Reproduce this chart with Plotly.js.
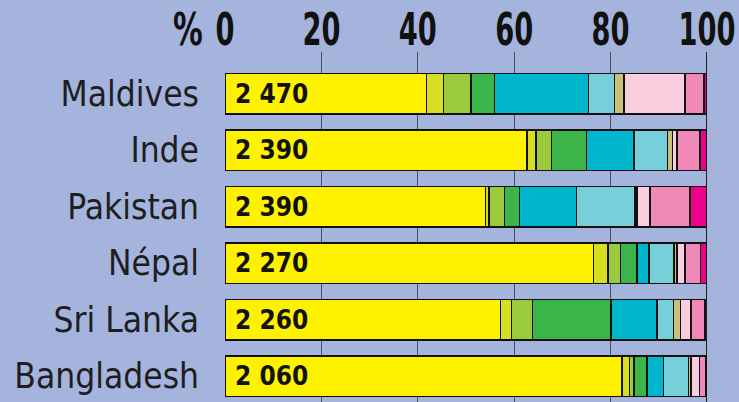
<!DOCTYPE html>
<html>
<head>
<meta charset="utf-8">
<script src="https://cdn.plot.ly/plotly-3.0.1.min.js"></script>
<style>
html,body{margin:0;padding:0;background:#A4B4DC;}
#chart{width:739px;height:402px;}
</style>
</head>
<body>
<div id="chart"></div>
<script>
// Countries (top to bottom)
const countries = ["Maldives", "Inde", "Pakistan", "Népal", "Sri Lanka", "Bangladesh"];
// Value labels shown inside the bars
const valueLabels = ["2 470", "2 390", "2 390", "2 270", "2 260", "2 060"];
// Share (%) of each segment, per country, in the order of countries
const seg1 = [41.8, 62.7, 54.0, 76.5, 57.2, 82.4];
const seg2 = [3.5, 1.8, 0.8, 3.0, 2.2, 1.5];
const seg3 = [5.7, 3.2, 3.2, 2.6, 4.4, 1.0];
const seg4 = [4.9, 7.3, 3.1, 3.4, 16.3, 2.6];
const seg5 = [19.5, 9.9, 11.8, 2.5, 9.5, 3.5];
const seg6 = [5.4, 6.9, 12.2, 5.2, 3.5, 5.2];
const seg7 = [2.0, 1.0, 0.4, 0.6, 1.4, 0.5];
const seg8 = [12.6, 1.0, 2.7, 1.6, 2.2, 1.7];
const seg9 = [4.0, 4.7, 8.3, 3.3, 2.9, 1.3];
const seg10 = [0.6, 1.5, 3.5, 1.3, 0.0, 0.3];
const tickVals = [0, 20, 40, 60, 80, 100];
const tickLabels = ["0", "20", "40", "60", "80", "100"];

const segments = [seg1, seg2, seg3, seg4, seg5, seg6, seg7, seg8, seg9, seg10];
const colors = ["#FFF200", "#D7DF23", "#9BCA3C", "#3BB54A", "#00B6CC",
                "#76CFD9", "#C9C07C", "#F9CEDF", "#F089B8", "#EC008C"];

const traces = segments.map((s, i) => ({
  type: "bar",
  orientation: "h",
  x: s,
  y: countries,
  marker: {color: colors[i], line: {color: "#111", width: 1.5}},
  hoverinfo: "x+y",
  showlegend: false
}));

const boldCond = "DejaVu Sans Condensed, DejaVu Sans, sans-serif";

const annotations = countries.map((c, i) => ({
  x: 0, y: c, xref: "x", yref: "y",
  text: valueLabels[i],
  xanchor: "left", yanchor: "middle",
  xshift: 8, yshift: 0,
  showarrow: false,
  font: {family: boldCond, size: 26, weight: 700, color: "#111"}
}));
annotations.push({
  x: 0, y: 1, xref: "x", yref: "paper",
  text: "%", xanchor: "center", yanchor: "middle",
  xshift: -37, yshift: 23,
  showarrow: false,
  font: {family: boldCond, size: 44, weight: 700, color: "#111"}
});

const layout = {
  width: 739, height: 402,
  margin: {l: 225, r: 32, t: 52, b: 0},
  paper_bgcolor: "#A4B4DC",
  plot_bgcolor: "#A4B4DC",
  barmode: "stack",
  bargap: 0.283,
  xaxis: {
    side: "top",
    range: [0, 100],
    tickvals: tickVals,
    ticktext: tickLabels,
    showgrid: true,
    gridcolor: "#4a4d5a",
    gridwidth: 1.2,
    zeroline: false,
    showline: false,
    ticks: "",
    ticklabelstandoff: 0,
    ticklabeloverflow: "allow",
    tickfont: {family: boldCond, size: 44, weight: 700, color: "#111"},
    fixedrange: true
  },
  yaxis: {
    type: "category",
    categoryorder: "array",
    categoryarray: countries,
    range: [5.457, -0.738],
    autorange: false,
    showgrid: false,
    zeroline: false,
    showline: false,
    ticks: "",
    ticklabelstandoff: 25,
    tickfont: {family: "DejaVu Sans Condensed, DejaVu Sans, sans-serif", size: 35, color: "#1e1e22"},
    fixedrange: true
  },
  shapes: [{
    type: "line", xref: "x", yref: "paper",
    x0: 100, x1: 100, y0: 0, y1: 1,
    line: {color: "#111", width: 1.8}
  }],
  annotations: annotations
};

Plotly.newPlot("chart", traces, layout, {displayModeBar: false, staticPlot: true}).then(gd => {
  // narrow the bold tick digits to mimic the condensed typeface
  gd.querySelectorAll(".xtick text").forEach(t => {
    const old = t.getAttribute("transform") || "";
    const x = parseFloat(t.getAttribute("x")) || 0;
    t.setAttribute("transform", old + " translate(" + x + ",3) scale(0.69,1) translate(" + (-x) + ",0)");
  });
  const annos = gd.querySelectorAll(".annotation");
  const pct = annos[annos.length - 1];
  const pt = pct.querySelector("text");
  if (pt) { pt.style.transformBox = "fill-box"; pt.style.transformOrigin = "center"; pt.style.transform = "scaleX(0.75)"; }
});
</script>
</body>
</html>
